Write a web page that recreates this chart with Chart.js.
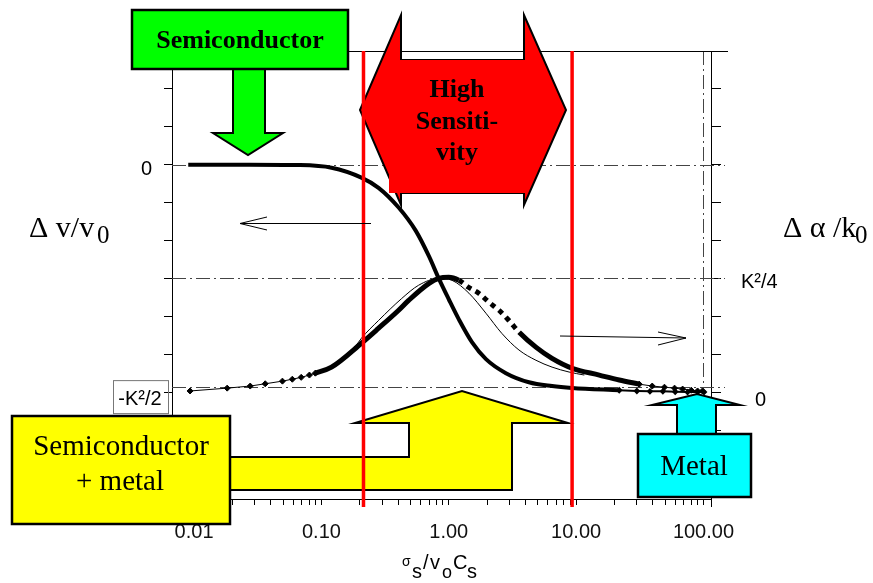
<!DOCTYPE html>
<html>
<head>
<meta charset="utf-8">
<script src="https://cdn.jsdelivr.net/npm/chart.js@4.4.1/dist/chart.umd.min.js"></script>
<style>
  body { margin: 0; background: #fff; }
  #wrap { width: 873px; height: 583px; }
</style>
</head>
<body>
<div id="wrap"><canvas id="c" width="873" height="583"></canvas></div>
<script>
// x = sigma_s / (v0 Cs); y in steps of K^2/12 (left 0 .. -6 = -K^2/2, right 0 .. 3 = K^2/4)
const sigmaVel = [0.009, 0.027, 0.066, 0.12, 0.206, 0.281, 0.404, 0.55, 0.70, 0.834, 1.0, 1.2, 1.52, 1.96, 2.81, 4.26, 6.47, 9.29, 21.8];
const dvVel    = [0, 0, -0.01, -0.08, -0.34, -0.61, -1.13, -1.74, -2.42, -3.0, -3.55, -4.08, -4.68, -5.13, -5.50, -5.74, -5.84, -5.89, -5.95];
const sigmaVelTail = [21.8, 30, 38, 48, 60, 75, 90, 101];
const dvVelTail    = [-5.95, -5.97, -5.98, -5.98, -5.99, -6.0, -6.0, -6.0];

const sigmaAttLow = [0.0093, 0.0182, 0.0276, 0.0362, 0.0494, 0.0591, 0.0694, 0.0805, 0.0896];
const attLow      = [0.03, 0.105, 0.16, 0.22, 0.29, 0.34, 0.39, 0.45, 0.50];
const sigmaAtt = [0.0896, 0.12, 0.206, 0.28, 0.404, 0.484, 0.70, 0.834, 1.0, 1.2, 1.44, 1.72, 2.07, 2.48, 2.97, 3.57, 4.86, 6.47, 9.29, 15.2, 21.8, 31.3];
const att      = [0.50, 0.66, 1.29, 1.68, 2.16, 2.42, 2.87, 3.0, 3.03, 2.95, 2.76, 2.61, 2.37, 2.16, 1.89, 1.58, 1.18, 0.89, 0.63, 0.45, 0.32, 0.21];
const sigmaAttTail = [31.3, 39.6, 49.4, 59.3, 68.6, 80.2, 89.9, 98.2];
const attTail      = [0.21, 0.16, 0.13, 0.105, 0.08, 0.05, 0.03, 0.03];
const sigmaTheory = [0.12, 0.163, 0.206, 0.281, 0.427, 0.58, 0.834, 1.06, 1.44, 1.96, 2.61, 3.56, 4.84, 6.47, 8.80, 11.6];
const attTheory   = [0.68, 0.95, 1.42, 1.89, 2.47, 2.82, 3.0, 2.95, 2.61, 2.08, 1.55, 1.11, 0.84, 0.66, 0.53, 0.45];

const xLabelValues = [0.01, 0.1, 1, 10, 100];
const leftLabels = [{ v: 0, t: '0' }, { v: -6, t: '-K²/2' }];
const rightLabels = [{ v: 3, t: 'K²/4' }, { v: 0, t: '0' }];
const refLevels = [0, -3, -5.87];     // dash-dot lines, left axis units
const refSigma = 100;                 // dash-dot vertical
const redSigma = [0.214, 9.3];        // high sensitivity limits

const pts = (xs, ys) => xs.map((x, i) => ({ x: x, y: ys[i] }));

const xTickValues = [];
[0.01, 0.1, 1, 10].forEach(d => { for (let m = 1; m <= 9; m++) xTickValues.push(+(d * m).toPrecision(3)); });
xTickValues.push(100);

function poly(ctx, p, fill, lw) {
  ctx.beginPath();
  p.forEach((q, i) => i ? ctx.lineTo(q[0], q[1]) : ctx.moveTo(q[0], q[1]));
  ctx.closePath();
  ctx.fillStyle = fill; ctx.fill();
  ctx.lineWidth = lw || 2; ctx.strokeStyle = '#000'; ctx.stroke();
}
function seg(ctx, x1, y1, x2, y2) {
  ctx.beginPath(); ctx.moveTo(x1, y1); ctx.lineTo(x2, y2); ctx.stroke();
}
function txt(ctx, s, x, y, font, align) {
  ctx.font = font; ctx.textAlign = align || 'left'; ctx.fillText(s, x, y);
}

const decor = {
  id: 'decor',
  beforeDatasetsDraw(chart) {
    const { ctx, chartArea: a, scales: { x, yL } } = chart;
    ctx.save();
    ctx.strokeStyle = '#444'; ctx.lineWidth = 1;
    ctx.setLineDash([14, 4, 2, 4]);
    refLevels.forEach(v => {
      const y = Math.round(yL.getPixelForValue(v)) + 0.5;
      seg(ctx, a.left, y, a.right + 14, y);
    });
    const xv = Math.round(x.getPixelForValue(refSigma)) + 0.5;
    seg(ctx, xv, a.top, xv, yL.getPixelForValue(-6));
    ctx.setLineDash([]);
    ctx.strokeStyle = '#000';
    seg(ctx, a.left, a.top + 0.5, a.right + 17, a.top + 0.5);
    seg(ctx, a.right + 0.5, a.bottom, a.right + 0.5, a.bottom + 8);
    ctx.restore();
  },
  afterDraw(chart) {
    const { ctx, chartArea: a, scales: { x, yL, yR } } = chart;
    ctx.save();
    ctx.fillStyle = '#000';
    ctx.textBaseline = 'middle';

    // tick labels
    leftLabels.forEach(l => {
      const y = yL.getPixelForValue(l.v);
      if (l.v === 0) {
        txt(ctx, l.t, 152, y + 5, '20px "Liberation Sans"', 'right');
      } else {
        ctx.strokeStyle = '#777'; ctx.lineWidth = 1;
        ctx.strokeRect(113.5, y - 11.5, 55, 33);
        txt(ctx, l.t, 140, y + 7, '20px "Liberation Sans"', 'center');
      }
    });
    rightLabels.forEach(l => {
      const y = yR.getPixelForValue(l.v);
      txt(ctx, l.t, l.v === 0 ? 755 : 741, y + (l.v === 0 ? 8 : 4), '20px "Liberation Sans"');
    });

    // axis titles
    ctx.textBaseline = 'alphabetic';
    const serif = s => s + 'px "Liberation Serif"';
    txt(ctx, 'Δ v/v', 29, 237, serif(30));
    txt(ctx, '0', 97, 243, serif(25));
    txt(ctx, 'Δ α /k', 783, 237, serif(30));
    txt(ctx, '0', 855, 243, serif(25));
    const sans = s => s + 'px "Liberation Sans"';
    txt(ctx, 'σ', 402, 566, sans(14)); txt(ctx, 's', 412, 578, sans(20));
    txt(ctx, '/', 423, 569, sans(20)); txt(ctx, 'v', 430, 569, sans(20));
    txt(ctx, 'o', 442, 578, sans(18));
    txt(ctx, 'C', 453, 569, sans(20)); txt(ctx, 's', 467, 578, sans(20));

    // green: semiconductor
    poly(ctx, [[233, 68], [265, 68], [265, 133], [283, 133], [248, 155], [213, 133], [233, 133]], '#00ff00', 2);
    poly(ctx, [[132, 10], [348, 10], [348, 69], [132, 69]], '#00ff00', 2.5);
    ctx.fillStyle = '#000';
    txt(ctx, 'Semiconductor', 240, 48, 'bold 26px "Liberation Serif"', 'center');

    // red: high sensitivity
    poly(ctx, [[360, 110], [401, 15], [401, 60], [524, 60], [524, 15], [566, 110], [524, 205], [524, 193], [401, 193], [401, 205]], '#ff0000', 2);
    ctx.fillStyle = '#ff0000';
    ctx.fillRect(389, 60, 136, 133);
    ctx.fillStyle = '#000';
    const bs = 'bold 26px "Liberation Serif"';
    txt(ctx, 'High', 457, 97, bs, 'center');
    txt(ctx, 'Sensiti-', 457, 129, bs, 'center');
    txt(ctx, 'vity', 457, 160, bs, 'center');

    // yellow: semiconductor + metal
    poly(ctx, [[230, 457], [409, 457], [409, 423], [355, 423], [462, 391], [568, 423], [512, 423], [512, 490], [230, 490]], '#ffff00', 2);
    poly(ctx, [[12, 416], [230, 416], [230, 524], [12, 524]], '#ffff00', 2.5);
    ctx.fillStyle = '#000';
    txt(ctx, 'Semiconductor', 121, 455, serif(29), 'center');
    txt(ctx, '+ metal', 120, 490, serif(29), 'center');

    // cyan: metal
    poly(ctx, [[677, 434], [677, 405], [652, 405], [697, 394], [740, 405], [716, 405], [716, 434]], '#00ffff', 2);
    poly(ctx, [[638, 434], [751, 434], [751, 497], [638, 497]], '#00ffff', 2.5);
    ctx.fillStyle = '#000';
    txt(ctx, 'Metal', 694, 475, serif(29), 'center');

    // high sensitivity limits
    ctx.strokeStyle = '#ff0000'; ctx.lineWidth = 3.5;
    redSigma.forEach(s => {
      const xp = x.getPixelForValue(s);
      seg(ctx, xp, a.top, xp, a.bottom + 8);
    });

    // axis pointers
    ctx.strokeStyle = '#000'; ctx.lineWidth = 1;
    seg(ctx, 371, 223.5, 240, 223.5);
    seg(ctx, 240, 223.5, 267, 217); seg(ctx, 240, 223.5, 267, 230);
    seg(ctx, 560, 336, 686, 338);
    seg(ctx, 686, 338, 658, 332); seg(ctx, 686, 338, 658, 345);
    ctx.restore();
  }
};

const black = '#000';
new Chart(document.getElementById('c'), {
  type: 'scatter',
  data: {
    datasets: [
      { data: pts(sigmaVel, dvVel), yAxisID: 'yL', showLine: true, borderColor: black, borderWidth: 4,
        pointRadius: 0, cubicInterpolationMode: 'monotone' },
      { data: pts(sigmaVelTail, dvVelTail), yAxisID: 'yL', showLine: true, borderColor: black, borderWidth: 2,
        pointStyle: 'rectRot', pointRadius: 2, backgroundColor: black },
      { data: pts(sigmaTheory, attTheory), yAxisID: 'yR', showLine: true, borderColor: black, borderWidth: 1,
        pointRadius: 0, cubicInterpolationMode: 'monotone' },
      { data: pts(sigmaAttLow, attLow), yAxisID: 'yR', showLine: true, borderColor: black, borderWidth: 1,
        pointStyle: 'rectRot', pointRadius: 3, backgroundColor: black },
      { data: pts(sigmaAtt, att), yAxisID: 'yR', showLine: true, borderColor: black, borderWidth: 5,
        pointRadius: 0, cubicInterpolationMode: 'monotone',
        segment: { borderDash: c => (c.p0.parsed.x >= 1.1 && c.p1.parsed.x <= 3.6) ? [5, 5] : undefined } },
      { data: pts(sigmaAttTail, attTail), yAxisID: 'yR', showLine: true, borderColor: black, borderWidth: 1,
        pointStyle: 'rectRot', pointRadius: 3, backgroundColor: black }
    ]
  },
  options: {
    responsive: false,
    animation: false,
    layout: { padding: { top: 51, left: 0, right: 0, bottom: 0 } },
    plugins: { legend: { display: false }, tooltip: { enabled: false } },
    scales: {
      x: {
        type: 'logarithmic', position: 'bottom', min: 0.00671, max: 114.6,
        afterBuildTicks: s => { s.ticks = xTickValues.map(v => ({ value: v })); },
        afterFit: s => { s.height = 84; },
        ticks: {
          autoSkip: false, maxRotation: 0, minRotation: 0, padding: 15, color: '#111',
          font: { family: '"Liberation Sans"', size: 20 },
          callback: v => xLabelValues.some(l => Math.abs(l - v) < l * 1e-6) ? Number(v).toFixed(2) : ''
        },
        grid: { drawOnChartArea: false, tickLength: 6, color: black },
        border: { color: black, width: 1 }
      },
      yL: {
        type: 'linear', position: 'left', min: -8.82, max: 3,
        afterFit: s => { s.width = 172; },
        ticks: { stepSize: 1, includeBounds: false, callback: () => '' },
        grid: { drawOnChartArea: false, tickLength: 8, color: black },
        border: { color: black, width: 1 }
      },
      yR: {
        type: 'linear', position: 'right', min: -2.82, max: 9,
        afterFit: s => { s.width = 162; },
        ticks: { stepSize: 1, includeBounds: false, callback: () => '' },
        grid: { drawOnChartArea: false, tickLength: 10, color: black },
        border: { color: black, width: 1 }
      }
    }
  },
  plugins: [decor]
});
</script>
</body>
</html>
